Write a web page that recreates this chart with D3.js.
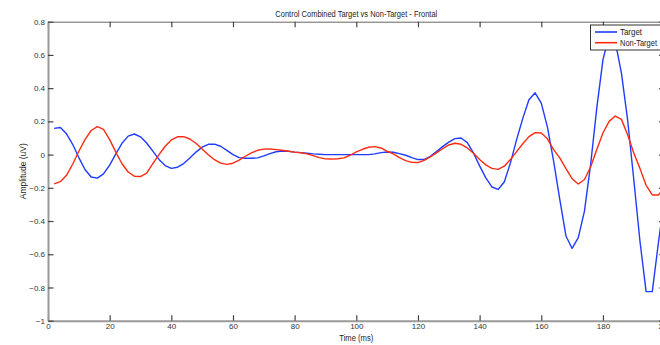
<!DOCTYPE html>
<html>
<head>
<meta charset="utf-8">
<script src="https://cdn.jsdelivr.net/npm/d3@7"></script>
<style>
  body { margin: 0; background: #fff; }
  svg { display: block; font-family: "Liberation Sans", Arial, sans-serif; }
  .tick-label { font-size: 8px; fill: #333; }
</style>
</head>
<body>
<div class="chart"></div>
<script>
// time points, 2 ms sampling
var times = d3.range(2, 201, 2);

// Target (blue)
var target = [
  0.158, 0.163, 0.125, 0.062, -0.018, -0.090, -0.135, -0.142, -0.116, -0.063,
  0.004, 0.068, 0.111, 0.124, 0.107, 0.070, 0.021, -0.029, -0.066, -0.083,
  -0.076, -0.054, -0.021, 0.015, 0.045, 0.062, 0.063, 0.050, 0.025, 0.000,
  -0.018, -0.022, -0.022, -0.020, -0.008, 0.006, 0.017, 0.022, 0.020, 0.015,
  0.012, 0.008, 0.004, 0.002, 0.000, 0.000, 0.000, 0.000, 0.000, 0.000,
  0.000, 0.000, 0.004, 0.012, 0.016, 0.014, 0.006, -0.004, -0.018, -0.030,
  -0.030, -0.010, 0.018, 0.048, 0.075, 0.096, 0.100, 0.072, 0.010, -0.068,
  -0.140, -0.195, -0.210, -0.165, -0.050, 0.090, 0.218, 0.330, 0.372, 0.310,
  0.165, -0.040, -0.270, -0.490, -0.565, -0.500, -0.340, -0.060, 0.280, 0.570,
  0.720, 0.680, 0.490, 0.210, -0.150, -0.520, -0.825, -0.825, -0.530, -0.250
];

// Non-Target (red)
var nonTarget = [
  -0.176, -0.163, -0.125, -0.058, 0.020, 0.090, 0.145, 0.168, 0.152, 0.090,
  0.015, -0.055, -0.105, -0.130, -0.132, -0.112, -0.055, 0.000, 0.050, 0.088,
  0.107, 0.108, 0.094, 0.068, 0.034, -0.001, -0.031, -0.051, -0.059, -0.052,
  -0.033, -0.010, 0.010, 0.026, 0.033, 0.034, 0.030, 0.026, 0.020, 0.015,
  0.011, 0.004, -0.006, -0.018, -0.026, -0.027, -0.025, -0.020, -0.004, 0.016,
  0.032, 0.044, 0.048, 0.040, 0.020, 0.004, -0.018, -0.036, -0.047, -0.048,
  -0.035, -0.014, 0.010, 0.035, 0.058, 0.068, 0.062, 0.040, 0.008, -0.030,
  -0.062, -0.083, -0.089, -0.070, -0.030, 0.018, 0.065, 0.108, 0.132, 0.130,
  0.095, 0.030, -0.020, -0.085, -0.145, -0.177, -0.150, -0.075, 0.030, 0.130,
  0.200, 0.232, 0.212, 0.120, 0.010, -0.083, -0.185, -0.243, -0.243, -0.200
];

var xTicks = [0, 20, 40, 60, 80, 100, 120, 140, 160, 180, 200];
var yTicks = [-1, -0.8, -0.6, -0.4, -0.2, 0, 0.2, 0.4, 0.6, 0.8];
var seriesNames = ["Target", "Non-Target"];
var seriesColors = ["#1f3cff", "#ff2a12"];

var svgWidth = 660;
var svgHeight = 345;
var margin = { top: 21.7, right: -4.6, bottom: 24.3, left: 48 };
var width = svgWidth - margin.left - margin.right;
var height = svgHeight - margin.top - margin.bottom;

var svg = d3.select(".chart")
  .append("svg")
  .attr("width", svgWidth)
  .attr("height", svgHeight);

var chart = svg.append("g")
  .attr("transform", "translate(" + margin.left + "," + margin.top + ")");

var xScale = d3.scaleLinear().domain([0, 200]).range([0, width]);
var yScale = d3.scaleLinear().domain([-1, 0.8]).range([height, 0]);

// lines
var line = d3.line()
  .x(function(d) { return xScale(d[0]); })
  .y(function(d) { return yScale(d[1]); });

[target, nonTarget].forEach(function(values, i) {
  chart.append("path")
    .datum(times.map(function(t, j) { return [t, values[j]]; }))
    .attr("fill", "none")
    .attr("stroke", seriesColors[i])
    .attr("stroke-width", 1.4)
    .attr("stroke-linejoin", "round")
    .attr("d", line);
});

// axes box with inward ticks on all sides
var bottomAxis = d3.axisBottom(xScale).tickValues(xTicks).tickSizeInner(-5.5).tickSizeOuter(0).tickPadding(3).tickFormat(d3.format("d"));
var topAxis = d3.axisTop(xScale).tickValues(xTicks).tickSizeInner(-5.5).tickSizeOuter(0).tickFormat("");
var leftAxis = d3.axisLeft(yScale).tickValues(yTicks).tickSizeInner(-5.5).tickSizeOuter(0).tickPadding(3).tickFormat(function(d) { return d3.format("")(+d.toFixed(1)); });
var rightAxis = d3.axisRight(yScale).tickValues(yTicks).tickSizeInner(-5.5).tickSizeOuter(0).tickFormat("");

chart.append("g").attr("class", "x-axis").attr("transform", "translate(0," + height + ")").call(bottomAxis);
chart.append("g").attr("class", "top-axis").call(topAxis);
chart.append("g").attr("class", "y-axis").call(leftAxis);
chart.append("g").attr("class", "right-axis").attr("transform", "translate(" + width + ",0)").call(rightAxis);

chart.selectAll(".tick line").attr("stroke", "#444").attr("stroke-width", 1.2);
chart.selectAll(".tick text").attr("class", "tick-label").attr("font-size", null).attr("font-family", null);
chart.selectAll(".x-axis .domain, .y-axis .domain").attr("stroke", "#999").attr("stroke-width", 2);
chart.selectAll(".top-axis .domain, .right-axis .domain").attr("stroke", "#666").attr("stroke-width", 1);

// title and axis labels
svg.append("text")
  .attr("x", margin.left + width / 2)
  .attr("y", 16.5)
  .attr("text-anchor", "middle")
  .attr("font-size", "8.5px")
  .attr("textLength", 162)
  .attr("lengthAdjust", "spacingAndGlyphs")
  .attr("fill", "#222")
  .text("Control Combined Target vs Non-Target - Frontal");

svg.append("text")
  .attr("x", margin.left + width / 2)
  .attr("y", 340.5)
  .attr("text-anchor", "middle")
  .attr("font-size", "8.5px")
  .attr("textLength", 34)
  .attr("lengthAdjust", "spacingAndGlyphs")
  .attr("fill", "#222")
  .text("Time (ms)");

svg.append("text")
  .attr("transform", "translate(25.5," + (margin.top + height / 2) + ") rotate(-90)")
  .attr("text-anchor", "middle")
  .attr("font-size", "8.5px")
  .attr("textLength", 56)
  .attr("lengthAdjust", "spacingAndGlyphs")
  .attr("fill", "#222")
  .text("Amplitude (uV)");

// legend
var legend = svg.append("g").attr("transform", "translate(590.5,25)");
legend.append("rect")
  .attr("width", 80)
  .attr("height", 25)
  .attr("fill", "#fff")
  .attr("stroke", "#333")
  .attr("stroke-width", 1);

var legendTextWidths = [22, 37];
seriesNames.forEach(function(name, i) {
  var y = 7 + i * 10.7;
  legend.append("line")
    .attr("x1", 4.5).attr("x2", 26.5)
    .attr("y1", y).attr("y2", y)
    .attr("stroke", seriesColors[i])
    .attr("stroke-width", 1.6);
  legend.append("text")
    .attr("x", 29.5)
    .attr("y", y + 3.2)
    .attr("font-size", "8.5px")
    .attr("textLength", legendTextWidths[i])
    .attr("lengthAdjust", "spacingAndGlyphs")
    .attr("fill", "#222")
    .text(name);
});
</script>
</body>
</html>
